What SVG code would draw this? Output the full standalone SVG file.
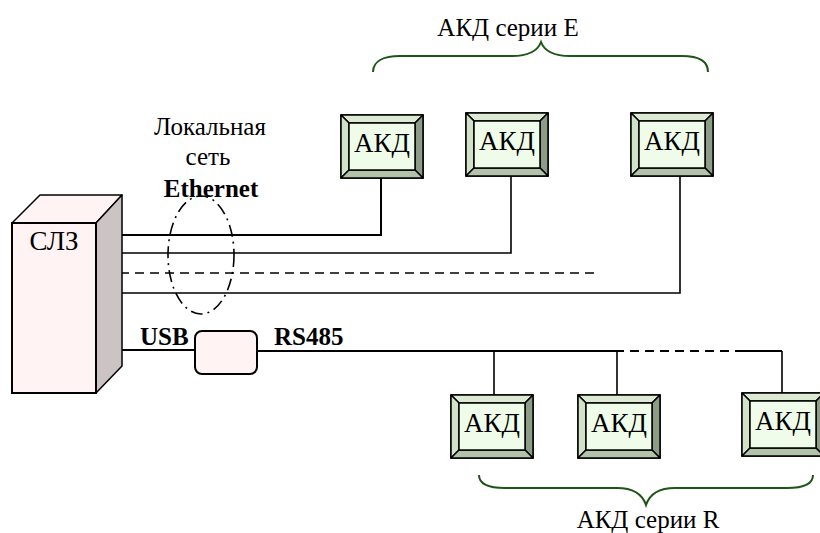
<svg xmlns="http://www.w3.org/2000/svg" xmlns:xlink="http://www.w3.org/1999/xlink" width="820" height="533" viewBox="0 0 820 533">
<style>
.t{font-family:"Liberation Serif","Times New Roman",serif;font-size:25px;fill:#000}
.big{font-size:27px}
.b{font-weight:bold}
.ln{stroke:#000;stroke-width:1.6;fill:none}
.thick{stroke-width:2}
.dash{stroke-dasharray:9 6}
.brace{stroke:#1E5618;stroke-width:2;fill:none}
.k{stroke:#000;stroke-width:1.5;stroke-linejoin:round}
</style>
<defs>
<g id="akd">
<rect x="0" y="0" width="82" height="63" fill="#EEFBE8" class="k"/>
<polygon points="0,0 82,0 74,8 8,8" fill="#DCEAD4" class="k"/>
<polygon points="0,0 8,8 8,55 0,63" fill="#D2E2C9" class="k"/>
<polygon points="82,0 82,63 74,55 74,8" fill="#8C9C86" class="k"/>
<polygon points="0,63 8,55 74,55 82,63" fill="#B3C3AA" class="k"/>
<rect x="8" y="8" width="66" height="47" fill="#F0FCEA" class="k"/>
</g>
</defs>

<g id="connectors">
<polyline class="ln thick" points="120,235 381,235 381,178"/>
<polyline class="ln" points="120,253 511,253 511,176"/>
<line class="ln dash" x1="120" y1="273" x2="595" y2="273"/>
<polyline class="ln" points="120,293 680,293 680,176"/>
<line class="ln thick" x1="120" y1="350" x2="195" y2="350"/>
<line class="ln thick" x1="257" y1="351" x2="615" y2="351"/>
<line class="ln thick dash" x1="615" y1="351" x2="735" y2="351"/>
<line class="ln thick" x1="735" y1="351" x2="782" y2="351"/>
<line class="ln" x1="494" y1="351" x2="494" y2="395"/>
<line class="ln" x1="617" y1="351" x2="617" y2="395"/>
<line class="ln" x1="782" y1="351" x2="782" y2="393"/>
</g>

<g id="ethernet">
<ellipse cx="201" cy="255" rx="33" ry="59" fill="none" stroke="#000" stroke-width="1.6" stroke-dasharray="12 5 2 5"/>
<text class="t" x="210" y="135" text-anchor="middle">Локальная</text>
<text class="t" x="208" y="165" text-anchor="middle">сеть</text>
<text class="t b" x="211" y="197" text-anchor="middle">Ethernet</text>
</g>

<g id="slz">
<polygon points="12,223 40,195 122,195 96,223" fill="#FFF3F3" class="k" stroke-width="2"/>
<polygon points="96,223 122,195 122,366 96,393" fill="#CCC4C4" class="k" stroke-width="2"/>
<rect x="12" y="223" width="84" height="170" fill="#FFF3F3" stroke="#000" stroke-width="2"/>
<text class="t big" x="54" y="250" text-anchor="middle">СЛЗ</text>
</g>

<g id="converter">
<rect x="195" y="331" width="62" height="43" rx="7" fill="#FFF3F3" stroke="#000" stroke-width="2"/>
<text class="t b" x="140" y="345">USB</text>
<text class="t b" x="274" y="345">RS485</text>
</g>

<g id="akd-e1"><use xlink:href="#akd" x="341" y="115"/><text class="t big" x="382" y="152" text-anchor="middle">АКД</text></g>
<g id="akd-e2"><use xlink:href="#akd" x="466" y="113"/><text class="t big" x="507" y="150" text-anchor="middle">АКД</text></g>
<g id="akd-e3"><use xlink:href="#akd" x="631" y="113"/><text class="t big" x="672" y="150" text-anchor="middle">АКД</text></g>
<g id="akd-r1"><use xlink:href="#akd" x="451" y="395"/><text class="t big" x="492" y="432" text-anchor="middle">АКД</text></g>
<g id="akd-r2"><use xlink:href="#akd" x="578" y="395"/><text class="t big" x="619" y="432" text-anchor="middle">АКД</text></g>
<g id="akd-r3"><use xlink:href="#akd" x="742" y="393"/><text class="t big" x="783" y="430" text-anchor="middle">АКД</text></g>

<g id="group-e">
<path class="brace" d="M373,72 C373,61 384,56 400,56 L512,56 C531,56 538,50 541,42 C544,50 551,56 570,56 L682,56 C698,56 708,61 708,72"/>
<text class="t" x="508" y="36" text-anchor="middle">АКД серии E</text>
</g>

<g id="group-r">
<path class="brace" d="M479,475 C479,484 488,488 505,488 L617,488 C636,488 643,496 646,505 C649,496 656,488 675,488 L787,488 C804,488 813,484 813,475"/>
<text class="t" x="648" y="528" text-anchor="middle">АКД серии R</text>
</g>
</svg>
